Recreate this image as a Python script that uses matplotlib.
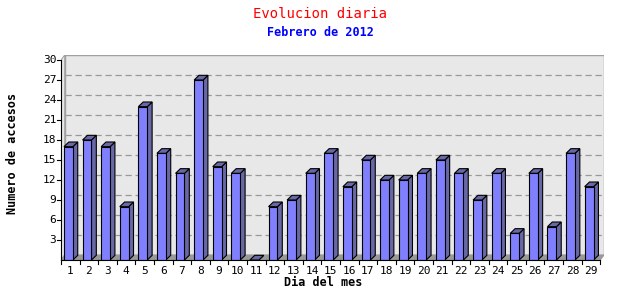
import matplotlib.pyplot as plt
from matplotlib.patches import Polygon

dias = [str(d) for d in range(1, 30)]
accesos = [17, 18, 17, 8, 23, 16, 13, 27, 14, 13, 0, 8, 9, 13, 16, 11, 15, 12, 12,
           13, 15, 13, 9, 13, 4, 13, 5, 16, 11]
y_ticks = [3, 6, 9, 12, 15, 18, 21, 24, 27, 30]

n = len(dias)
ymax = 30
dx, dy = 0.2, 0.75        # profundidad del fondo
bx, by = 0.26, 0.7        # profundidad de las barras
face = '#8080ff'
side = '#6868a6'

fig = plt.figure(figsize=(6.4, 3.0), dpi=100)
ax = fig.add_axes([61 / 640, 40 / 300, 543 / 640, 205 / 300])
ax.set_xlim(0, n + dx)
ax.set_ylim(0, ymax + dy)
ax.axis('off')

mono = 'DejaVu Sans Mono'

# fondo
ax.add_patch(Polygon([(dx, dy), (n + dx, dy), (n + dx, ymax + dy), (dx, ymax + dy)],
                     closed=True, facecolor='#e8e8e8', edgecolor='#a0a0a0', lw=1, zorder=0))
ax.add_patch(Polygon([(0, 0), (dx, dy), (dx, ymax + dy), (0, ymax)],
                     closed=True, facecolor='#e8e8e8', edgecolor='#a0a0a0', lw=0.75, zorder=0))
ax.add_patch(Polygon([(0, 0), (n, 0), (n + dx, dy), (dx, dy)],
                     closed=True, facecolor='#999999', edgecolor='#999999', lw=0.75, zorder=1))

for t in y_ticks[:-1]:
    ax.plot([dx, n + dx], [t + dy, t + dy], color='#999999', lw=0.9, ls=(0, (5, 3)), zorder=1)

# barras
for i, v in enumerate(accesos):
    x0 = i + 0.16
    x1 = x0 + 0.48
    ax.add_patch(Polygon([(x1, 0), (x1 + bx, by), (x1 + bx, v + by), (x1, v)],
                         closed=True, facecolor=side, edgecolor='black', lw=0.8, zorder=3 + i))
    ax.add_patch(Polygon([(x0, v), (x1, v), (x1 + bx, v + by), (x0 + bx, v + by)],
                         closed=True, facecolor=side, edgecolor='black', lw=0.8, zorder=3 + i))
    if v > 0:
        ax.add_patch(Polygon([(x0, 0), (x1, 0), (x1, v), (x0, v)],
                             closed=True, facecolor=face, edgecolor='black', lw=0.8, zorder=3 + i))

# ejes
ax.plot([0, 0], [0, ymax], color='black', lw=0.8, zorder=50, clip_on=False)
ax.plot([0, n], [0, 0], color='black', lw=0.8, zorder=50, clip_on=False)
for t in y_ticks:
    ax.plot([-0.2, 0], [t, t], color='black', lw=0.8, clip_on=False, zorder=50)
    ax.text(-0.25, t, str(t), ha='right', va='center', fontsize=8, family=mono)
for i in range(n + 1):
    ax.plot([i, i], [0, -0.6], color='black', lw=0.8, clip_on=False, zorder=50)
for i, d in enumerate(dias):
    ax.text(i + 0.5, -0.9, d, ha='center', va='top', fontsize=8, family=mono)

fig.text(0.5, 1 - 14 / 300, 'Evolucion diaria', color='red', ha='center', va='center',
         fontsize=10, family=mono)
fig.text(0.5, 1 - 32 / 300, 'Febrero de 2012', color='blue', ha='center', va='center',
         fontsize=8.5, family=mono, weight='bold')
fig.text(323 / 640, 1 - 282 / 300, 'Dia del mes', ha='center', va='center',
         fontsize=8.5, family=mono, weight='bold')
fig.text(13 / 640, 1 - 153 / 300, 'Numero de accesos', ha='center', va='center',
         rotation=90, fontsize=8.5, family=mono, weight='bold')

fig.savefig('out.png', dpi=100, facecolor='white')
